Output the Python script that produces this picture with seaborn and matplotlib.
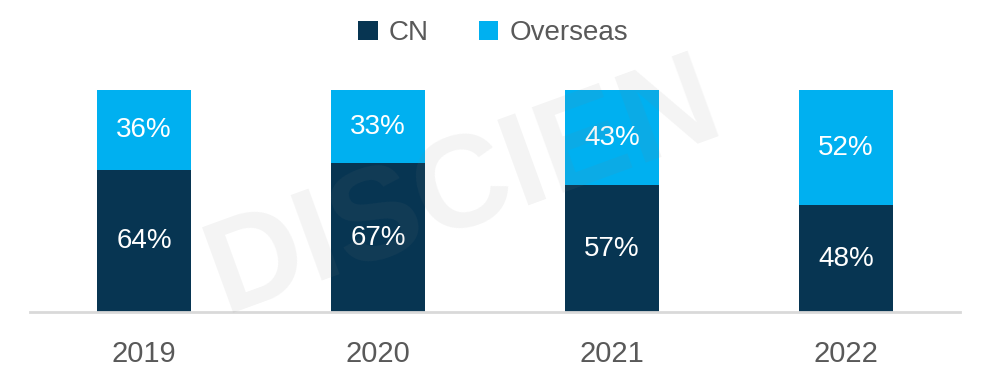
import numpy as np
import pandas as pd
import matplotlib
matplotlib.use("Agg")
import matplotlib.pyplot as plt
import seaborn as sns

years = ["2019", "2020", "2021", "2022"]
cn = [64, 67, 57, 48]
overseas = [36, 33, 43, 52]

cn_color = "#073552"
os_color = "#00B0F0"

sns.set_style("white")
plt.rcParams["font.family"] = ["Liberation Sans", "DejaVu Sans"]

df = pd.DataFrame({"year": years, "CN": cn, "Overseas": overseas})
df["total"] = df["CN"] + df["Overseas"]

fig = plt.figure(figsize=(9.86, 3.78), dpi=100)
ax = fig.add_axes([0.030, 0.175, 0.944, 0.587])

# stacked: total first (overseas colour), CN drawn over it from zero
sns.barplot(data=df, x="year", y="total", color=os_color, width=0.4,
            saturation=1, linewidth=0, ax=ax, label="Overseas")
sns.barplot(data=df, x="year", y="CN", color=cn_color, width=0.4,
            saturation=1, linewidth=0, ax=ax, label="CN")

for i in range(len(years)):
    ax.text(i, cn[i] / 2, f"{cn[i]}%", ha="center", va="center",
            color="white", fontsize=20)
    ax.text(i, cn[i] + overseas[i] / 2, f"{overseas[i]}%", ha="center",
            va="center", color="white", fontsize=20)

ax.set_xlim(-0.49, 3.49)
ax.set_ylim(0, 100)
ax.set_xlabel("")
ax.set_ylabel("")
ax.set_yticks([])
for s in ["top", "right", "left"]:
    ax.spines[s].set_visible(False)
ax.spines["bottom"].set_color("#d9d9d9")
ax.spines["bottom"].set_linewidth(2)
ax.tick_params(axis="x", length=0, pad=20, labelsize=21, labelcolor="#595959")

handles, labels = ax.get_legend_handles_labels()
order = [labels.index("CN"), labels.index("Overseas")]
fig.legend([handles[k] for k in order], [labels[k] for k in order],
           loc="center", bbox_to_anchor=(0.50, 0.912), ncol=2, frameon=False,
           fontsize=20, labelcolor="#595959", handlelength=0.7,
           handleheight=0.7, handletextpad=0.4, columnspacing=1.8)
if ax.get_legend() is not None:
    ax.get_legend().remove()

# faint watermark
fig.text(0.47, 0.5, "DISCIEN", fontsize=95, fontweight="bold",
         rotation=20, ha="center", va="center", color="#808080",
         alpha=0.09, zorder=10)

fig.savefig("out.png", dpi=100)
